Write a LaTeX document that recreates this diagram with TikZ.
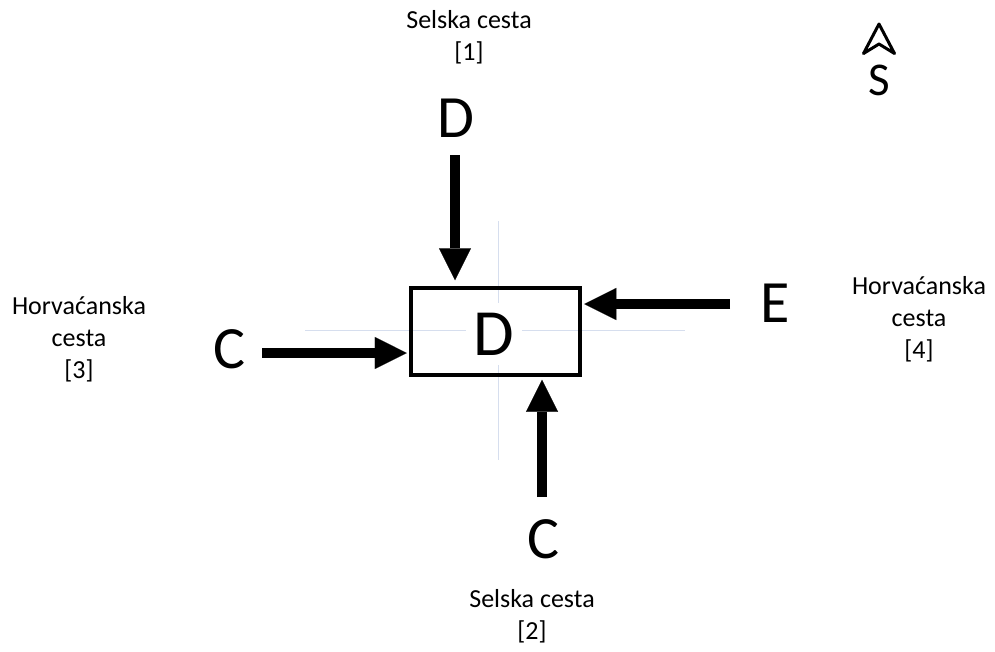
\documentclass[tikz,border=0pt]{standalone}
\usepackage{fontspec}
\setmainfont{Carlito}
\usetikzlibrary{arrows.meta,calc}
\definecolor{guide}{RGB}{214,222,238}
\tikzset{
  road/.style={anchor=base, inner sep=0pt, font=\fontsize{26}{32}\selectfont},
  big/.style={anchor=base, inner sep=0pt, font=\fontsize{60}{60}\selectfont},
  bigarrow/.style={line width=10.5pt, -{Triangle[length=32pt,width=32pt,line width=0.1pt]}},
  guideline/.style={draw=guide, line width=1pt},
}
\begin{document}
\begin{tikzpicture}[x=1pt,y=-1pt]
\useasboundingbox (0,0) rectangle (995,651);
% faint guide lines
\coordinate (gt) at (498,221);
\coordinate (gb) at (498,460);
\coordinate (gl) at (305,330);
\coordinate (gr) at (685,330);
\draw[guideline] (gt) -- (gb);
\draw[guideline] (gl) -- (gr);
% central box
\node[draw, line width=3.5pt, minimum width=169pt, minimum height=87pt, inner sep=0pt] (box) at (495.5,331.5) {};
\node[anchor=base, fill=white, inner xsep=7.5pt, inner ysep=10pt, font=\fontsize{66}{66}\selectfont] (dlabel) at (494,355) {D};
% approach letters
\node[big] (dtop) at (456,137) {D};
\node[big] (cleft) at (229,368) {C};
\node[big] (eright) at (775,322) {E};
\node[big] (cbot) at (543,558) {C};
% arrows
\coordinate (nstart) at (455,155);
\coordinate (wstart) at (262,353);
\coordinate (estart) at (730,304);
\coordinate (sstart) at (542,497);
\draw[bigarrow, shorten >=6pt] (nstart) -- (nstart |- box.north);
\draw[bigarrow, shorten >=2.5pt] (wstart) -- (wstart -| box.west);
\draw[bigarrow, shorten >=2.5pt] (estart) -- (estart -| box.east);
\draw[bigarrow, shorten >=3pt] (sstart) -- (sstart |- box.south);
% road names
\node[road] (r1) at (469,28) {\begin{tabular}[t]{@{}c@{}}Selska cesta\\{[1]}\end{tabular}};
\node[road] (r2) at (532,607) {\begin{tabular}[t]{@{}c@{}}Selska cesta\\{[2]}\end{tabular}};
\node[road] (r3) at (79,314) {\begin{tabular}[t]{@{}c@{}}Horvaćanska\\cesta\\{[3]}\end{tabular}};
\node[road] (r4) at (919,294) {\begin{tabular}[t]{@{}c@{}}Horvaćanska\\cesta\\{[4]}\end{tabular}};
% north arrow
\draw[line width=3pt, line join=round] (879,24) -- (894.5,53.5) -- (879,44) -- (863.5,53.5) -- cycle;
\node[anchor=base, inner sep=0pt, font=\fontsize{47}{47}\selectfont] (north) at (879,95) {S};
\end{tikzpicture}
\end{document}
